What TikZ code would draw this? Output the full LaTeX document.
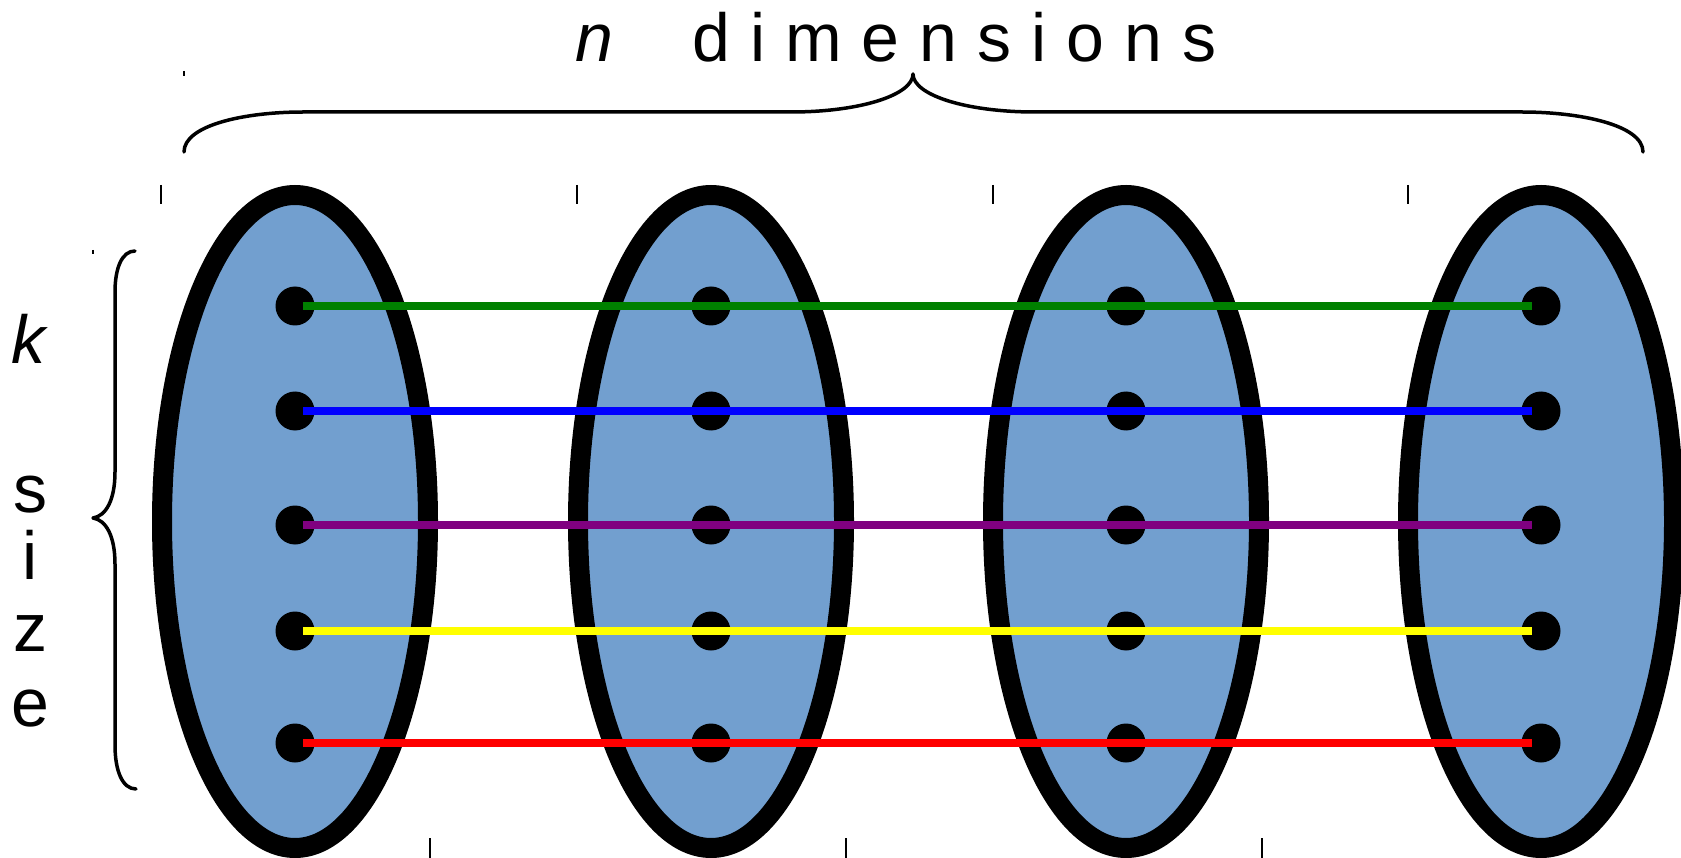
\documentclass[tikz,border=0pt]{standalone}
\usepackage{fontspec}
\setmainfont{Liberation Sans}
\usetikzlibrary{shapes.geometric}
\definecolor{ellfill}{RGB}{114,159,207}
\definecolor{lgreen}{RGB}{0,128,0}
\definecolor{lblue}{RGB}{0,0,255}
\definecolor{lpurple}{RGB}{128,0,128}
\definecolor{lyellow}{RGB}{255,255,0}
\definecolor{lred}{RGB}{255,0,0}
\tikzset{
  setell/.style={ellipse, draw=black, line width=20pt, fill=ellfill, minimum width=266pt, minimum height=653pt, inner sep=0pt},
  elem/.style={circle, fill=black, minimum size=39pt, inner sep=0pt},
  tuple/.style={line width=7.5pt},
  bracepath/.style={line width=3.5pt, line cap=round, line join=round},
  tickmark/.style={line width=1.3pt},
  lbl/.style={inner sep=0pt, anchor=base, font=\fontsize{68}{80}\selectfont}
}
\begin{document}
\begin{tikzpicture}[x=1pt,y=-1pt]
\useasboundingbox (0,0) rectangle (1681,858);
% sets
\foreach \i/\x in {1/295,2/711,3/1126,4/1541}{
  \node[setell] (e\i) at (\x,521.5) {};
}
% elements
\foreach \i/\x in {1/295,2/711,3/1126,4/1541}{
  \foreach \j/\y in {1/306,2/411,3/525,4/631,5/743}{
    \node[elem] (d\j\i) at (\x,\y) {};
  }
}
% tuples
\foreach \j/\c in {1/lgreen,2/lblue,3/lpurple,4/lyellow,5/lred}{
  \draw[tuple, \c] ([xshift=8pt]d\j1.center) -- ([xshift=-9pt]d\j4.center);
}
% tick marks
\foreach \x in {161,577,993,1408}{ \draw[tickmark] (\x,185) -- (\x,204); }
\foreach \x in {430,846,1262}{ \draw[tickmark] (\x,838) -- (\x,858); }
\draw[tickmark] (184,71) -- (184,76);
\draw[tickmark] (93,250) -- (93,254);
% top brace
\draw[bracepath] (184,152) .. controls (184,125) and (245,112) .. (303,112) -- (791,112)
  .. controls (860,112) and (913,95) .. (913,74)
  .. controls (913,95) and (966,112) .. (1035,112) -- (1522,112)
  .. controls (1580,112) and (1643,125) .. (1643,152);
% left brace
\draw[bracepath] (135,251) .. controls (122,251) and (115,268) .. (115,292) -- (115,472)
  .. controls (115,500) and (106,516) .. (93,518)
  .. controls (106,520) and (115,536) .. (115,564) -- (115,745)
  .. controls (115,770) and (122,789) .. (136,789);
% labels
\node[lbl, anchor=base west] (tn) at (575,62) {\itshape n};
\node[lbl, anchor=base west] (tdim) at (692,62) {\addfontfeature{LetterSpace=29.5}dimensions};
\node[lbl] (tk) at (29,364) {\itshape k};
\node[lbl] (ts) at (30,512) {s};
\node[lbl] (ti) at (30,579) {i};
\node[lbl] (tz) at (30,651) {z};
\node[lbl] (te) at (30,726) {e};
\end{tikzpicture}
\end{document}
